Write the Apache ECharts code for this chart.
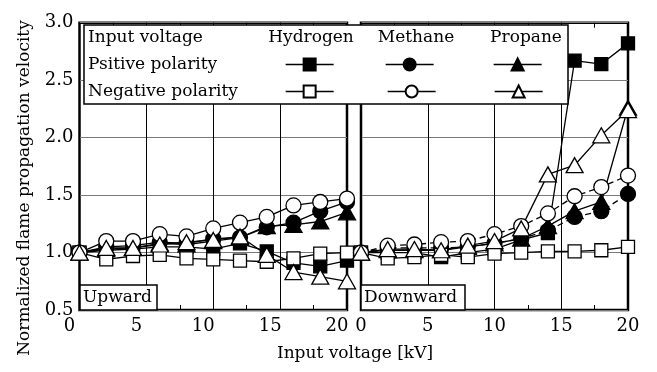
<!DOCTYPE html>
<html>
<head>
<meta charset="utf-8">
<script src="https://cdn.jsdelivr.net/npm/echarts@6/dist/echarts.min.js"></script>
<style>
html, body { margin: 0; padding: 0; background: #fff; }
#chart { width: 657px; height: 372px; }
</style>
</head>
<body>
<div id="chart"></div>
<script>
// input voltage [kV]
const voltage = [0, 2, 4, 6, 8, 10, 12, 14, 16, 18, 20]

// upward propagation (left panel)
const upHydrogenPos = [1.0, 1.02, 1.03, 1.05, 1.05, 1.03, 1.08, 1.01, 0.91, 0.88, 0.93]
const upHydrogenNeg = [1.0, 0.94, 0.97, 0.98, 0.95, 0.94, 0.93, 0.92, 0.95, 0.99, 1.0]
const upMethanePos = [1.0, 1.05, 1.06, 1.09, 1.08, 1.12, 1.13, 1.22, 1.26, 1.36, 1.44]
const upMethaneNeg = [1.0, 1.10, 1.10, 1.16, 1.14, 1.21, 1.26, 1.31, 1.41, 1.44, 1.47]
const upPropanePos = [1.0, 1.03, 1.04, 1.08, 1.07, 1.10, 1.13, 1.23, 1.24, 1.27, 1.35]
const upPropaneNeg = [1.0, 1.04, 1.04, 1.07, 1.09, 1.11, 1.14, 0.98, 0.83, 0.79, 0.75]

// downward propagation (right panel)
const downHydrogenPos = [1.0, 1.0, 1.0, 0.96, 1.0, 1.03, 1.11, 1.17, 2.67, 2.64, 2.82]
const downHydrogenNeg = [1.0, 0.95, 0.96, 0.98, 0.96, 0.99, 1.0, 1.01, 1.01, 1.02, 1.05]
const downMethanePos = [1.0, 1.04, 1.04, 1.04, 1.05, 1.08, 1.12, 1.19, 1.31, 1.36, 1.51]
const downMethaneNeg = [1.0, 1.06, 1.07, 1.09, 1.10, 1.16, 1.23, 1.34, 1.49, 1.57, 1.67]
const downPropanePos = [1.0, 1.02, 1.02, 1.02, 1.05, 1.08, 1.12, 1.23, 1.36, 1.44, 2.26]
const downPropaneNeg = [1.0, 1.03, 1.03, 1.02, 1.06, 1.10, 1.21, 1.68, 1.76, 2.02, 2.24]

const yTicks = [0.5, 1.0, 1.5, 2.0, 2.5, 3.0]

const FONT = 'DejaVu Serif'

// one style per gas / polarity
const styles = {
  'Hydrogen +': { symbol: 'rect', size: 13, fill: '#000' },
  'Methane +': { symbol: 'circle', size: 15, fill: '#000' },
  'Propane +': { symbol: 'triangle', size: [17, 15], fill: '#000' },
  'Hydrogen -': { symbol: 'rect', size: 13, fill: '#fff' },
  'Methane -': { symbol: 'circle', size: 15, fill: '#fff' },
  'Propane -': { symbol: 'triangle', size: [17, 15], fill: '#fff' }
}

function makeSeries(name, values, gridIdx, dashed) {
  const st = styles[name]
  return {
    name: name,
    type: 'line',
    xAxisIndex: gridIdx * 2,
    yAxisIndex: gridIdx,
    data: voltage.map((v, i) => [v, values[i]]),
    symbol: st.symbol,
    symbolSize: st.size,
    showAllSymbol: true,
    animation: false,
    itemStyle: { color: st.fill, borderColor: '#000', borderWidth: 1.3, opacity: 1 },
    lineStyle: { color: '#000', width: 1.3, type: dashed ? [6, 4] : 'solid' },
    emphasis: { disabled: true }
  }
}

// filled markers first, open ones on top, triangles last
const series = [
  makeSeries('Hydrogen +', upHydrogenPos, 0),
  makeSeries('Methane +', upMethanePos, 0),
  makeSeries('Propane +', upPropanePos, 0),
  makeSeries('Hydrogen -', upHydrogenNeg, 0),
  makeSeries('Methane -', upMethaneNeg, 0),
  makeSeries('Propane -', upPropaneNeg, 0),
  makeSeries('Hydrogen +', downHydrogenPos, 1),
  makeSeries('Methane +', downMethanePos, 1, true),
  makeSeries('Propane +', downPropanePos, 1),
  makeSeries('Hydrogen -', downHydrogenNeg, 1),
  makeSeries('Methane -', downMethaneNeg, 1, true),
  makeSeries('Propane -', downPropaneNeg, 1)
]

function xAxisPair(gridIdx, labelPad) {
  const base = {
    gridIndex: gridIdx,
    type: 'value',
    min: 0,
    max: 20,
    interval: 5,
    axisLine: { show: false },
    axisTick: { show: true, inside: true, length: 5, lineStyle: { color: '#000', width: 1 } },
    minorTick: { show: true, splitNumber: 2, length: 5, lineStyle: { color: '#000', width: 1 } }
  }
  return [
    Object.assign({}, base, {
      position: 'bottom',
      axisLabel: {
        fontFamily: FONT, fontSize: 18, color: '#000', margin: 7,
        padding: [0, labelPad, 0, 0]
      },
      splitLine: { show: true, lineStyle: { color: '#000', width: 1 } }
    }),
    Object.assign({}, base, {
      position: 'top',
      axisLabel: { show: false },
      splitLine: { show: false }
    })
  ]
}

function yAxisFor(gridIdx, showLabel) {
  return {
    gridIndex: gridIdx,
    type: 'value',
    min: yTicks[0],
    max: yTicks[yTicks.length - 1],
    interval: 0.5,
    axisLine: { show: false },
    axisTick: { show: false },
    axisLabel: {
      show: showLabel, fontFamily: FONT, fontSize: 18, color: '#000', margin: 6,
      formatter: v => v.toFixed(1)
    },
    splitLine: { show: true, lineStyle: { color: '#7a7a7a', width: 1.2 } }
  }
}

// legend markers sit in a little table: columns = gas, rows = polarity
const legendSpots = [
  { name: 'Hydrogen +', left: 285, top: 57 },
  { name: 'Methane +', left: 385, top: 57 },
  { name: 'Propane +', left: 493, top: 57 },
  { name: 'Hydrogen -', left: 285, top: 84 },
  { name: 'Methane -', left: 387, top: 84 },
  { name: 'Propane -', left: 494, top: 84 }
]

const legends = legendSpots.map(s => ({
  data: [s.name],
  left: s.left,
  top: s.top,
  orient: 'horizontal',
  padding: 0,
  itemGap: 0,
  itemWidth: 48,
  itemHeight: 15,
  selectedMode: false,
  formatter: () => '',
  textStyle: { fontSize: 1 },
  lineStyle: { color: '#000', width: 1.3, type: 'solid' },
  z: 60
}))

function txt(text, x, y, opts) {
  return Object.assign({
    type: 'text',
    x: x,
    y: y,
    z: 60,
    style: {
      text: text,
      fill: '#000',
      font: '17px "' + FONT + '"',
      textAlign: 'left',
      textVerticalAlign: 'middle'
    }
  }, opts || {})
}

const graphics = [
  { type: 'rect', z: 50, shape: { x: 84, y: 25, width: 484, height: 79 },
    style: { fill: '#fff', stroke: '#000', lineWidth: 1.5 } },
  txt('Input voltage', 88, 38),
  txt('Psitive polarity', 88, 65),
  txt('Negative polarity', 88, 92),
  txt('Hydrogen', 311, 38, {}),
  txt('Methane', 416, 38, {}),
  txt('Propane', 526, 38, {}),
  { type: 'rect', z: 50, shape: { x: 80, y: 285, width: 77, height: 25 },
    style: { fill: '#fff', stroke: '#000', lineWidth: 1.5 } },
  txt('Upward', 83, 298),
  { type: 'rect', z: 50, shape: { x: 361, y: 285, width: 104, height: 25 },
    style: { fill: '#fff', stroke: '#000', lineWidth: 1.5 } },
  txt('Downward', 364, 298),
  txt('Input voltage [kV]', 355, 354),
  txt('Normalized flame propagation velocity', 25, 188, { rotation: Math.PI / 2 })
]
// centred headers and axis titles
;[4, 5, 6, 11, 12].forEach(i => { graphics[i].style.textAlign = 'center' })

const chart = echarts.init(document.getElementById('chart'))
chart.setOption({
  backgroundColor: '#fff',
  animation: false,
  grid: [
    { left: 79.5, top: 22.7, width: 267.5, height: 287.3, show: true, borderWidth: 2.5, borderColor: '#000', backgroundColor: 'transparent' },
    { left: 361, top: 22.7, width: 267, height: 287.3, show: true, borderWidth: 2.5, borderColor: '#000', backgroundColor: 'transparent' }
  ],
  xAxis: xAxisPair(0, 20).concat(xAxisPair(1, 0)),
  yAxis: [yAxisFor(0, true), yAxisFor(1, false)],
  legend: legends,
  graphic: graphics,
  series: series
})
</script>
</body>
</html>
